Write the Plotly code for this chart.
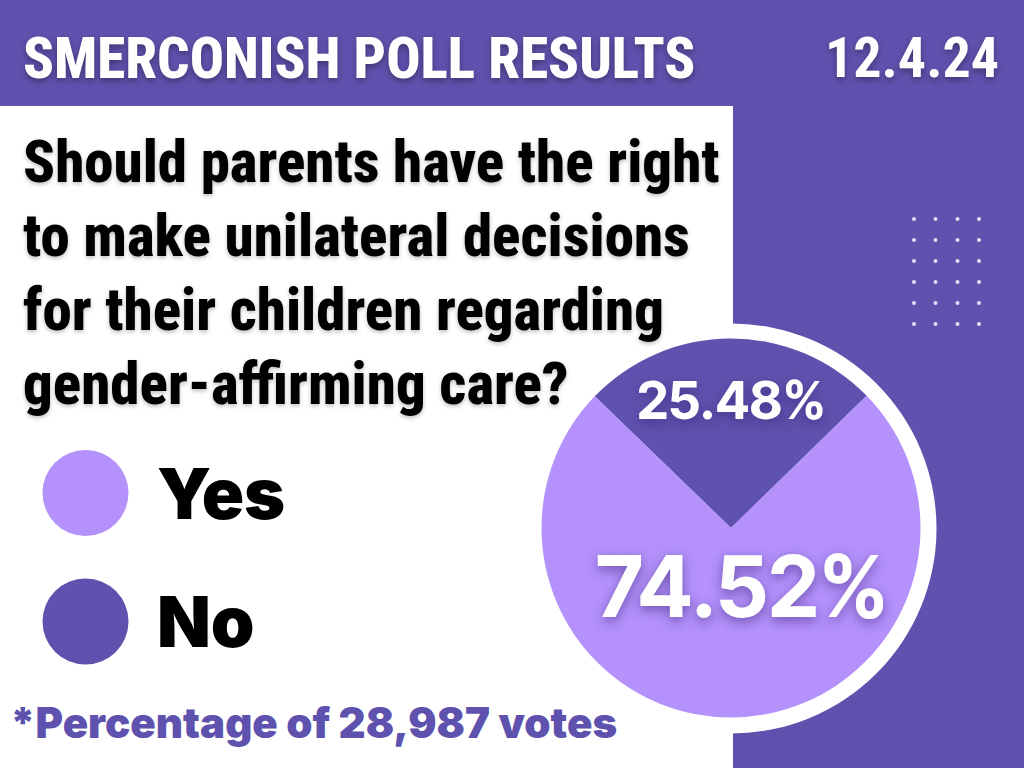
# Poll result card: pie of yes/no votes on a purple and white panel

import plotly.graph_objects as go

# Data
CATEGORIES = ["No", "Yes"]
VOTE_SHARE = [25.48, 74.52]
VOTE_COUNT = "28,987"
POLL_TITLE = "SMERCONISH POLL RESULTS"
POLL_DATE = "12.4.24"
QUESTION_LINES = [
    "Should parents have the right",
    "to make unilateral decisions",
    "for their children regarding",
    "gender-affirming care?",
]

# Dot grid decoration, in page pixels
DOT_COLS = [914, 935.5, 957.5, 979]
DOT_ROWS = [219, 240, 261, 282, 303, 324]

# Colours
PURPLE = "#5F52AE"
LILAC = "#B491FB"
WIDTH = 1024
HEIGHT = 768

HEAD_FONT = "Roboto Condensed"
BODY_FONT = "Inter"
PCT_FONT = "Inter Tight"
SOFT_SHADOW = "0px 3px 6px rgba(0,0,0,0.35)"
PCT_SHADOW = "0px 4px 12px rgba(50,25,110,0.5)"


def label(x, y, text, size, color, family=BODY_FONT, weight=700, anchor="left", shadow="none"):
    return dict(
        x=x,
        y=y,
        xref="x",
        yref="y",
        text=text,
        showarrow=False,
        xanchor=anchor,
        yanchor="middle",
        font=dict(size=size, color=color, family=family, weight=weight, shadow=shadow),
    )


def main():
    fig = go.Figure()

    # Legend dots and the dot grid live on a pixel-sized axis pair
    fig.add_trace(
        go.Scatter(
            x=[85.5, 85.5],
            y=[621.5, 493],
            mode="markers",
            marker=dict(size=86, color=[PURPLE, LILAC], line=dict(width=0)),
            showlegend=False,
            hoverinfo="skip",
        )
    )
    fig.add_trace(
        go.Scatter(
            x=[x for _ in DOT_ROWS for x in DOT_COLS],
            y=[y for y in DOT_ROWS for _ in DOT_COLS],
            mode="markers",
            marker=dict(size=4, color="#E4DCF8", line=dict(width=0)),
            showlegend=False,
            hoverinfo="skip",
        )
    )

    fig.add_trace(
        go.Pie(
            labels=CATEGORIES,
            values=VOTE_SHARE,
            sort=False,
            direction="clockwise",
            rotation=-46,
            marker=dict(colors=[PURPLE, LILAC], line=dict(width=0)),
            textinfo="none",
            showlegend=False,
            domain=dict(
                x=[(731 - 189.5) / WIDTH, (731 + 189.5) / WIDTH],
                y=[1 - 717.5 / HEIGHT, 1 - 338.5 / HEIGHT],
            ),
        )
    )

    annotations = [
        label(21, 58, POLL_TITLE, 57, "white", HEAD_FONT, 800, shadow=SOFT_SHADOW),
        label(1001, 58, POLL_DATE, 56, "white", HEAD_FONT, 700, "right", SOFT_SHADOW),
        label(155, 493, CATEGORIES[1], 70, "black", BODY_FONT, 900),
        label(155, 621, CATEGORIES[0], 70, "black", BODY_FONT, 900),
        label(8, 722, f"*Percentage of {VOTE_COUNT} votes", 42, PURPLE, BODY_FONT, 900),
        label(731, 400, f"{VOTE_SHARE[0]:.2f}%", 52.5, "white", PCT_FONT, 700, "center", PCT_SHADOW),
        label(742, 586, f"{VOTE_SHARE[1]:.2f}%", 84.5, "white", PCT_FONT, 700, "center", PCT_SHADOW),
    ]
    for line, y in zip(QUESTION_LINES, [161, 235, 309, 383]):
        annotations.append(label(21, y, line, 59, "black", HEAD_FONT, 800, shadow="0px 2px 4px rgba(0,0,0,0.25)"))

    fig.update_layout(
        width=WIDTH,
        height=HEIGHT,
        margin=dict(l=0, r=0, t=0, b=0),
        paper_bgcolor=PURPLE,
        plot_bgcolor="rgba(0,0,0,0)",
        xaxis=dict(range=[0, WIDTH], visible=False, domain=[0, 1]),
        yaxis=dict(range=[HEIGHT, 0], visible=False, domain=[0, 1]),
        annotations=annotations,
        shapes=[
            dict(type="rect", xref="x", yref="y", x0=0, x1=733, y0=106, y1=768,
                 fillcolor="white", line_width=0, layer="below"),
            dict(type="circle", xref="x", yref="y", x0=526, x1=936.5, y0=323.5, y1=733.5,
                 fillcolor="white", line_width=0, layer="below"),
        ],
    )

    fig.write_html("out.html", config=dict(displayModeBar=False), post_script="document.body.style.margin='0';")


if __name__ == "__main__":
    main()
